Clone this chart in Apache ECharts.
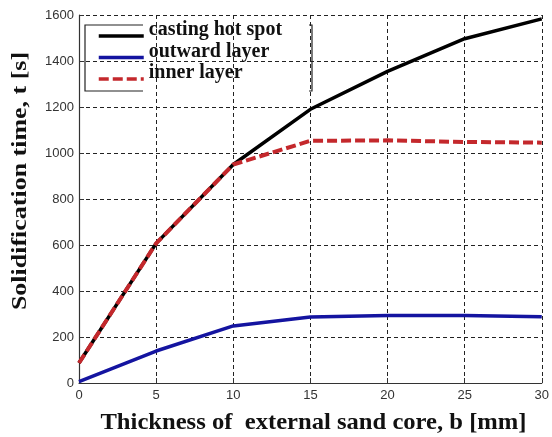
<!DOCTYPE html>
<html>
<head>
<meta charset="utf-8">
<script src="https://cdn.jsdelivr.net/npm/echarts@6/dist/echarts.min.js"></script>
<style>html,body{margin:0;padding:0;background:#fff}#c{width:552px;height:437px}</style>
</head>
<body>
<div id="c"></div>
<script>
// Data
const thickness = [0, 5, 10, 15, 20, 25, 30];               // b [mm]
const castingHotSpot = [87, 607, 950, 1190, 1355, 1497, 1583]; // t [s]
const outwardLayer = [6, 139, 248, 287, 293, 293, 288];
const innerLayer = [87, 607, 950, 1053, 1055, 1048, 1045];
const seriesNames = ['casting hot spot', 'outward layer', 'inner layer'];
const xTitle = 'Thickness of  external sand core, b [mm]';
const yTitle = 'Solidification time, t [s]';

const pair = (xs, ys) => xs.map((x, i) => [x, ys[i]]);

const chart = echarts.init(document.getElementById('c'), null, {renderer: 'canvas'});
const gridLine = {show: true, lineStyle: {color: '#222', type: [4, 3], width: 1}};
const tickFont = {color: '#333', fontFamily: '"Liberation Sans", Arial, sans-serif', fontSize: 13,
                  formatter: v => String(v)};

chart.setOption({
  animation: false,
  backgroundColor: '#fff',
  grid: {left: 79, right: 3, top: 15, bottom: 54, containLabel: false},
  xAxis: {
    type: 'value', min: 0, max: 30, interval: 5,
    axisLine: {show: true, onZero: false, lineStyle: {color: '#333', width: 1.2}},
    axisTick: {show: true, inside: true, length: 5, lineStyle: {color: '#333'}},
    axisLabel: Object.assign({margin: 6}, tickFont),
    splitLine: gridLine
  },
  yAxis: {
    type: 'value', min: 0, max: 1600, interval: 200,
    axisLine: {show: true, lineStyle: {color: '#333', width: 1.2}},
    axisTick: {show: true, inside: true, length: 5, lineStyle: {color: '#333'}},
    axisLabel: Object.assign({margin: 5}, tickFont),
    splitLine: gridLine
  },
  legend: {
    orient: 'vertical', left: 92, top: 15,
    itemWidth: 45, itemHeight: 14, itemGap: -10.5,
    data: seriesNames,
    itemStyle: {opacity: 0, borderWidth: 0},
    lineStyle: {width: 3.5},
    formatter: name => '{a|' + name + '}',
    textStyle: {
      rich: {a: {fontFamily: '"Liberation Serif", "Times New Roman", serif', fontWeight: 'bold',
                 fontSize: 20, color: '#111', lineHeight: 20, padding: [0, 0, 12, 0]}}
    }
  },
  series: [
    {name: seriesNames[0], type: 'line', data: pair(thickness, castingHotSpot), symbol: 'none',
     lineStyle: {color: '#000', width: 3.5}, itemStyle: {color: '#000'}, z: 2},
    {name: seriesNames[1], type: 'line', data: pair(thickness, outwardLayer), symbol: 'none',
     lineStyle: {color: '#1414a0', width: 3.5}, itemStyle: {color: '#1414a0'}, z: 3},
    {name: seriesNames[2], type: 'line', data: pair(thickness, innerLayer), symbol: 'none',
     lineStyle: {color: '#c4282c', width: 4, type: [10, 4]}, itemStyle: {color: '#c4282c'}, z: 4}
  ],
  graphic: [
    {type: 'polyline', shape: {points: [[143, 25], [85, 25], [85, 91], [143, 91]]},
     style: {stroke: '#222', lineWidth: 1.2, fill: null}, z: 10},
    {type: 'polyline', shape: {points: [[309, 25], [312, 25], [312, 91], [309, 91]]},
     style: {stroke: '#222', lineWidth: 1.2, fill: null}, z: 10},
    {type: 'text', x: 313.5, y: 423, scaleX: 1.07,
     style: {text: xTitle, font: 'bold 23px "Liberation Serif", "Times New Roman", serif',
             fill: '#111', align: 'center', verticalAlign: 'middle'}},
    {type: 'text', x: 20, y: 181, rotation: Math.PI / 2, scaleX: 1.18,
     style: {text: yTitle, font: 'bold 22px "Liberation Serif", "Times New Roman", serif',
             fill: '#111', align: 'center', verticalAlign: 'middle'}}
  ]
});
</script>
</body>
</html>
